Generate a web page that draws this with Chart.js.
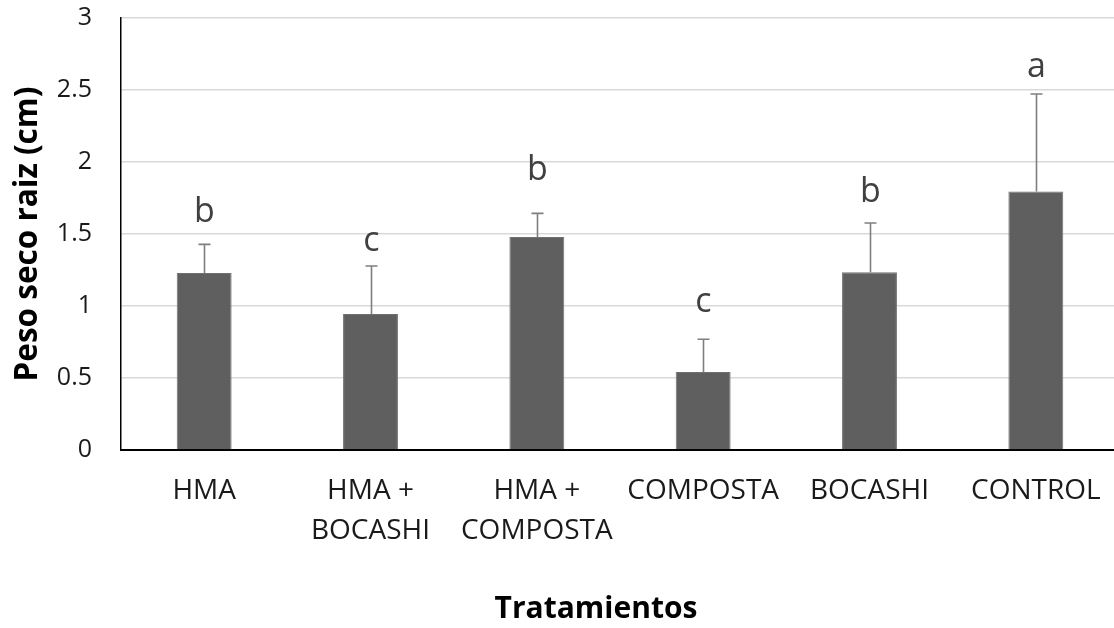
<!DOCTYPE html>
<html>
<head>
<meta charset="utf-8">
<script src="https://cdn.jsdelivr.net/npm/chart.js@4.4.1/dist/chart.umd.min.js"></script>
<style>
  html, body { margin: 0; padding: 0; background: #ffffff; overflow: hidden; }
  #wrap { width: 1124px; height: 628px; }
</style>
</head>
<body>
<div id="wrap"><canvas id="chart" width="1124" height="628"></canvas></div>
<script>
// Treatments and root dry weight (mean, standard deviation, significance group)
const categories = [['HMA'], ['HMA +', 'BOCASHI'], ['HMA +', 'COMPOSTA'], ['COMPOSTA'], ['BOCASHI'], ['CONTROL']];
const means = [1.23, 0.944, 1.479, 0.542, 1.234, 1.796];
const errors = [0.198, 0.334, 0.164, 0.227, 0.342, 0.676];
const groups = ['b', 'c', 'b', 'c', 'b', 'a'];
const yTickLabels = ['0', '0.5', '1', '1.5', '2', '2.5', '3'];

const yTitle = 'Peso seco raiz (cm)';
const xTitle = 'Tratamientos';

// Gap (px) between the top of each error bar and its group letter
const letterGap = [22, 15, 33, 27, 21, 17];

const FONT = '"Open Sans", "DejaVu Sans", sans-serif';

const errorBars = {
  id: 'errorBars',
  afterDatasetsDraw(chart) {
    const ctx = chart.ctx;
    const meta = chart.getDatasetMeta(0);
    const y = chart.scales.y;
    ctx.save();
    ctx.strokeStyle = '#7f7f7f';
    ctx.lineWidth = 1.6;
    meta.data.forEach((bar, i) => {
      const x = Math.round(bar.x) + 0.5;
      const yTop = y.getPixelForValue(means[i] + errors[i]);
      const yBase = y.getPixelForValue(means[i]);
      ctx.beginPath();
      ctx.moveTo(x, yBase);
      ctx.lineTo(x, yTop);
      ctx.moveTo(x - 6, yTop);
      ctx.lineTo(x + 6, yTop);
      ctx.stroke();
      // group letter
      ctx.fillStyle = '#404040';
      ctx.font = '34px ' + FONT;
      ctx.textAlign = 'center';
      ctx.textBaseline = 'alphabetic';
      ctx.fillText(groups[i], x, yTop - letterGap[i]);
    });
    ctx.restore();
  }
};

const xAxisTitle = {
  id: 'xAxisTitle',
  afterDraw(chart) {
    const ctx = chart.ctx;
    ctx.save();
    ctx.fillStyle = '#000000';
    ctx.font = 'bold 30px ' + FONT;
    ctx.textAlign = 'center';
    ctx.textBaseline = 'alphabetic';
    ctx.fillText(xTitle, 596, 618);
    ctx.restore();
  }
};

new Chart(document.getElementById('chart'), {
  type: 'bar',
  data: {
    labels: categories,
    datasets: [{
      data: means,
      backgroundColor: '#5f5f5f',
      borderColor: '#707070',
      borderWidth: 1,
      barPercentage: 0.33,
      categoryPercentage: 1.0
    }]
  },
  options: {
    responsive: false,
    animation: false,
    events: [],
    layout: { padding: { top: 18, right: 5, bottom: 0, left: 0 } },
    plugins: {
      legend: { display: false },
      tooltip: { enabled: false }
    },
    scales: {
      x: {
        grid: { display: false, drawTicks: false },
        border: { display: true, color: '#000000', width: 2 },
        ticks: {
          color: '#1a1a1a',
          font: { family: FONT, size: 28, lineHeight: '40px' },
          padding: 21,
          maxRotation: 0,
          autoSkip: false
        },
        afterFit(scale) { scale.height = 178; }
      },
      y: {
        min: 0,
        max: 3,
        grid: {
          color: (c) => (c.tick && c.tick.value === 0 ? 'rgba(0,0,0,0)' : '#d9d9d9'),
          lineWidth: 1.5,
          drawTicks: true,
          tickLength: 29,
          tickColor: 'rgba(0,0,0,0)'
        },
        border: { display: true, color: '#000000', width: 1.5 },
        ticks: {
          stepSize: 0.5,
          color: '#1a1a1a',
          font: { family: FONT, size: 25 },
          padding: 0,
          callback: (v, i) => yTickLabels[i]
        },
        title: {
          display: true,
          text: yTitle,
          color: '#000000',
          font: { family: FONT, size: 31.5, weight: 'bold' },
          padding: { top: 9, bottom: 0 }
        },
        afterFit(scale) { scale.width = 121; }
      }
    }
  },
  plugins: [errorBars, xAxisTitle]
});
</script>
</body>
</html>
